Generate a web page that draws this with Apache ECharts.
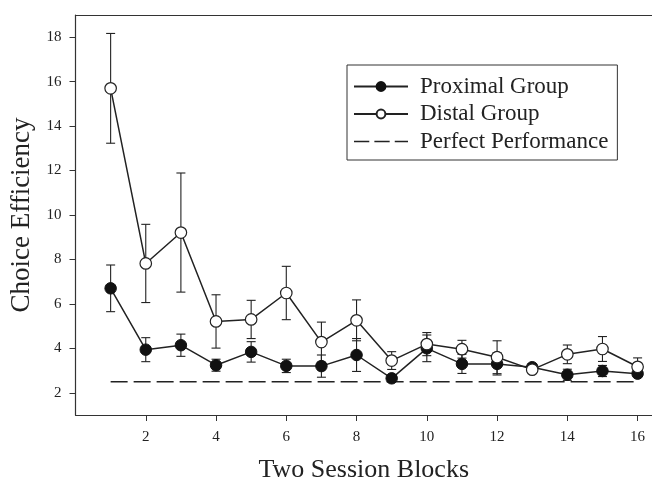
<!DOCTYPE html>
<html>
<head>
<meta charset="utf-8">
<script src="https://cdn.jsdelivr.net/npm/echarts@6/dist/echarts.min.js"></script>
<style>
html,body{margin:0;padding:0;background:#fff;}
#chart{width:652px;height:488px;}
</style>
</head>
<body>
<div id="chart"></div>
<script>
// ---- data ----
var blocks = [1,2,3,4,5,6,7,8,9,10,11,12,13,14,15,16];
var proximalMean = [6.70,3.94,4.14,3.24,3.84,3.21,3.20,3.70,2.65,4.00,3.30,3.30,3.15,2.81,2.98,2.86];
var proximalSE   = [1.05,0.54,0.50,0.27,0.46,0.30,0.50,0.74,0.10,0.60,0.43,0.50,0.15,0.25,0.25,0.15];
var distalMean   = [15.70,7.82,9.21,5.21,5.30,6.49,4.28,5.26,3.45,4.19,3.96,3.60,3.04,3.73,3.97,3.17];
var distalSE     = [2.47,1.76,2.68,1.20,0.86,1.20,0.90,0.92,0.40,0.52,0.40,0.74,0.15,0.42,0.56,0.40];
var perfectValue = 2.5;
var perfectX = [1,16];
var xTickValues = [2,4,6,8,10,12,14,16];
var yTickValues = [2,4,6,8,10,12,14,16,18];
var seriesNames = ['Proximal Group','Distal Group','Perfect Performance'];

// ---- build ----
var serif = '"Liberation Serif","DejaVu Serif",serif';
function pairs(xs, ys){ return xs.map(function(x,i){ return [x, ys[i]]; }); }
function errData(means, ses){ return blocks.map(function(x,i){ return [x, means[i]-ses[i], means[i]+ses[i]]; }); }
function errRender(params, api){
  var x = api.value(0);
  var lo = api.coord([x, api.value(1)]);
  var hi = api.coord([x, api.value(2)]);
  var w = 4.5;
  var st = {stroke:'#222', lineWidth:1.1};
  return {type:'group', children:[
    {type:'line', shape:{x1:lo[0],y1:lo[1],x2:hi[0],y2:hi[1]}, style:st},
    {type:'line', shape:{x1:lo[0]-w,y1:lo[1],x2:lo[0]+w,y2:lo[1]}, style:st},
    {type:'line', shape:{x1:hi[0]-w,y1:hi[1],x2:hi[0]+w,y2:hi[1]}, style:st}
  ]};
}

var chart = echarts.init(document.getElementById('chart'), null, {renderer:'canvas'});
chart.setOption({
  animation:false,
  backgroundColor:'#fff',
  textStyle:{fontFamily:serif},
  grid:{left:75.5, right:0, top:15, bottom:67, show:false},
  legend:{
    data:[
      {name:seriesNames[0]},
      {name:seriesNames[1]},
      {name:seriesNames[2], icon:'path://M0,0H15V1.4H0Z M20,0H35V1.4H20Z M40,0H53V1.4H40Z', itemStyle:{color:'#222'}}
    ],
    orient:'vertical',
    left:347, top:65,
    padding:[10,9,7,6],
    itemGap:4.5,
    itemWidth:54, itemHeight:11,
    borderColor:'#333', borderWidth:1,
    textStyle:{fontFamily:serif, fontSize:23, color:'#222', padding:[0,0,0,7]}
  },
  xAxis:[{
    type:'value', min:0, max:16.41,
    name:'Two Session Blocks', nameLocation:'middle', nameGap:42,
    nameTextStyle:{fontFamily:serif, fontSize:26, color:'#222'},
    axisLine:{show:true, onZero:false, lineStyle:{color:'#333', width:1.2}},
    axisTick:{show:true, inside:false, length:6, customValues:xTickValues, lineStyle:{color:'#333'}},
    axisLabel:{show:true, margin:15, customValues:xTickValues, fontFamily:serif, fontSize:15, color:'#222'},
    splitLine:{show:false}
  },{
    type:'value', min:0, max:16.41, position:'top',
    axisLine:{show:true, onZero:false, lineStyle:{color:'#333', width:1.2}},
    axisTick:{show:false}, axisLabel:{show:false}, splitLine:{show:false}
  }],
  yAxis:{
    type:'value', min:1, max:19,
    name:'Choice Efficiency', nameLocation:'middle', nameGap:39,
    nameTextStyle:{fontFamily:serif, fontSize:27, color:'#222'},
    axisLine:{show:true, onZero:false, lineStyle:{color:'#333', width:1.2}},
    axisTick:{show:true, inside:false, length:6, customValues:yTickValues, lineStyle:{color:'#333'}},
    axisLabel:{show:true, margin:14, customValues:yTickValues, fontFamily:serif, fontSize:15, color:'#222'},
    splitLine:{show:false}
  },
  series:[
    {
      name:'Perfect Performance', type:'line', data:pairs(perfectX,[perfectValue,perfectValue]),
      symbol:'none', z:1,
      lineStyle:{color:'#222', width:1.5, type:[17,6]},
      itemStyle:{color:'#222'}
    },
    {
      type:'custom', renderItem:errRender, data:errData(proximalMean, proximalSE), z:2, silent:true
    },
    {
      type:'custom', renderItem:errRender, data:errData(distalMean, distalSE), z:2, silent:true
    },
    {
      name:'Proximal Group', type:'line', data:pairs(blocks, proximalMean),
      symbol:'circle', symbolSize:11.5, z:3,
      lineStyle:{color:'#222', width:1.5},
      itemStyle:{color:'#111', borderColor:'#111', borderWidth:1}
    },
    {
      name:'Distal Group', type:'line', data:pairs(blocks, distalMean),
      symbol:'circle', symbolSize:11.5, z:4,
      lineStyle:{color:'#222', width:1.5},
      itemStyle:{color:'#fff', borderColor:'#222', borderWidth:1.2}
    }
  ]
});
</script>
</body>
</html>
